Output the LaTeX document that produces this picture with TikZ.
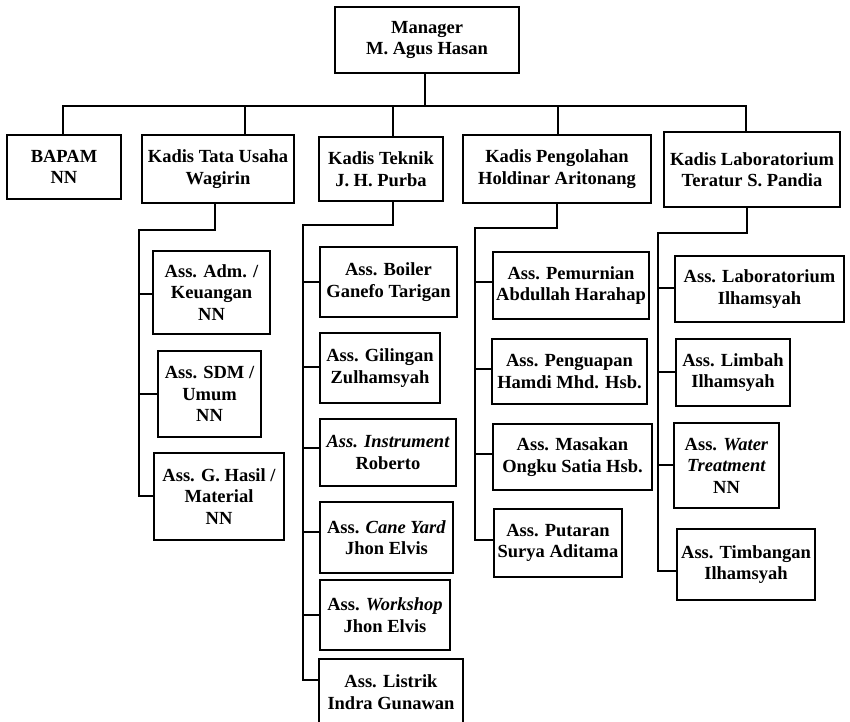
\documentclass[tikz,border=0pt]{standalone}
\usepackage{fontspec}
\setmainfont{Liberation Serif}
\begin{document}
\begin{tikzpicture}[x=1pt,y=-1pt,
  box/.style={draw,line width=1.3pt,rectangle,inner sep=0pt,align=center,
    font=\fontsize{18.5}{21.5}\selectfont\bfseries},
  link/.style={line width=1.3pt}]
\useasboundingbox (0,0) rectangle (850,721);
\clip (0,0) rectangle (850,721);
% top
\node[box,minimum width=184,minimum height=66] (mgr) at (427,40) {Manager\\M. Agus Hasan};
% level 1
\node[box,minimum width=114,minimum height=64] (bapam) at (64,167) {BAPAM\\NN};
\node[box,minimum width=152,minimum height=68] (tu) at (218,169) {Kadis Tata Usaha\\Wagirin};
\node[box,minimum width=124,minimum height=64] (tek) at (381,169) {Kadis Teknik\\J. H. Purba};
\node[box,minimum width=188,minimum height=68] (pg) at (557,169) {Kadis Pengolahan\\Holdinar Aritonang};
\node[box,minimum width=176,minimum height=75] (lab) at (752,169.5) {Kadis Laboratorium\\Teratur S. Pandia};
% tata usaha
\node[box,minimum width=117,minimum height=83] (adm) at (211.5,292.5) {Ass. Adm. /\\Keuangan\\NN};
\node[box,minimum width=103,minimum height=86] (sdm) at (209.5,394) {Ass. SDM /\\Umum\\NN};
\node[box,minimum width=130,minimum height=87] (gh) at (219,496.5) {Ass. G. Hasil /\\Material\\NN};
% teknik
\node[box,minimum width=137,minimum height=70] (boiler) at (388.5,282) {Ass. Boiler\\Ganefo Tarigan};
\node[box,minimum width=120,minimum height=70] (gil) at (380,368) {Ass. Gilingan\\Zulhamsyah};
\node[box,minimum width=136,minimum height=67] (ins) at (388,452.5) {\itshape Ass. Instrument\\Roberto};
\node[box,minimum width=133,minimum height=71] (cane) at (386.5,537.5) {Ass. \textit{Cane Yard}\\Jhon Elvis};
\node[box,minimum width=130,minimum height=70] (work) at (385,615) {Ass. \textit{Workshop}\\Jhon Elvis};
\node[box,minimum width=144,minimum height=66] (listrik) at (391,692) {Ass. Listrik\\Indra Gunawan};
% pengolahan
\node[box,minimum width=156,minimum height=67] (pem) at (571,285.5) {Ass. Pemurnian\\Abdullah Harahap};
\node[box,minimum width=155,minimum height=65] (peng) at (569.5,371.5) {Ass. Penguapan\\Hamdi Mhd. Hsb.};
\node[box,minimum width=159,minimum height=66] (mas) at (572.5,457) {Ass. Masakan\\Ongku Satia Hsb.};
\node[box,minimum width=128,minimum height=68] (put) at (558,543) {Ass. Putaran\\Surya Aditama};
% laboratorium
\node[box,minimum width=169,minimum height=66] (alab) at (759.5,289) {Ass. Laboratorium\\Ilhamsyah};
\node[box,minimum width=114,minimum height=67] (limbah) at (733,372.5) {Ass. Limbah\\Ilhamsyah};
\node[box,minimum width=105,minimum height=85] (water) at (726.5,465.5) {Ass. \textit{Water}\\\textit{Treatment}\\NN};
\node[box,minimum width=138,minimum height=71] (timb) at (746,564.5) {Ass. Timbangan\\Ilhamsyah};
% main bus
\coordinate (bus) at (425,106);
\draw[link] ([xshift=-2]mgr.south) -- (bus);
\draw[link] ([xshift=-1]bapam.north) |- (bus) -| ([xshift=-6]lab.north);
\draw[link] ([xshift=27]tu.north) -- ([xshift=27]tu.north |- bus);
\draw[link] ([xshift=12]tek.north) -- ([xshift=12]tek.north |- bus);
\draw[link] ([xshift=1]pg.north) -- ([xshift=1]pg.north |- bus);
% tata usaha branch
\coordinate (tuv) at (139,230);
\draw[link] ([xshift=-3]tu.south) |- (tuv) |- (gh.west |- 0,496);
\draw[link] (tuv |- 0,294) -- (adm.west |- 0,294);
\draw[link] (tuv |- 0,394) -- (sdm.west |- 0,394);
% teknik branch
\coordinate (tekv) at (303,225);
\draw[link] ([xshift=12]tek.south) |- (tekv) |- (listrik.west |- 0,680);
\draw[link] (tekv |- 0,282) -- (boiler.west |- 0,282);
\draw[link] (tekv |- 0,367) -- (gil.west |- 0,367);
\draw[link] (tekv |- 0,448) -- (ins.west |- 0,448);
\draw[link] (tekv |- 0,532) -- (cane.west |- 0,532);
\draw[link] (tekv |- 0,615) -- (work.west |- 0,615);
% pengolahan branch
\coordinate (pgv) at (475,228);
\draw[link] (pg.south) |- (pgv) |- (put.west |- 0,540);
\draw[link] (pgv |- 0,282) -- (pem.west |- 0,282);
\draw[link] (pgv |- 0,369) -- (peng.west |- 0,369);
\draw[link] (pgv |- 0,454) -- (mas.west |- 0,454);
% laboratorium branch
\coordinate (labv) at (658,233);
\draw[link] ([xshift=-5]lab.south) |- (labv) |- (timb.west |- 0,571);
\draw[link] (labv |- 0,288) -- (alab.west |- 0,288);
\draw[link] (labv |- 0,372) -- (limbah.west |- 0,372);
\draw[link] (labv |- 0,465) -- (water.west |- 0,465);
\end{tikzpicture}
\end{document}
